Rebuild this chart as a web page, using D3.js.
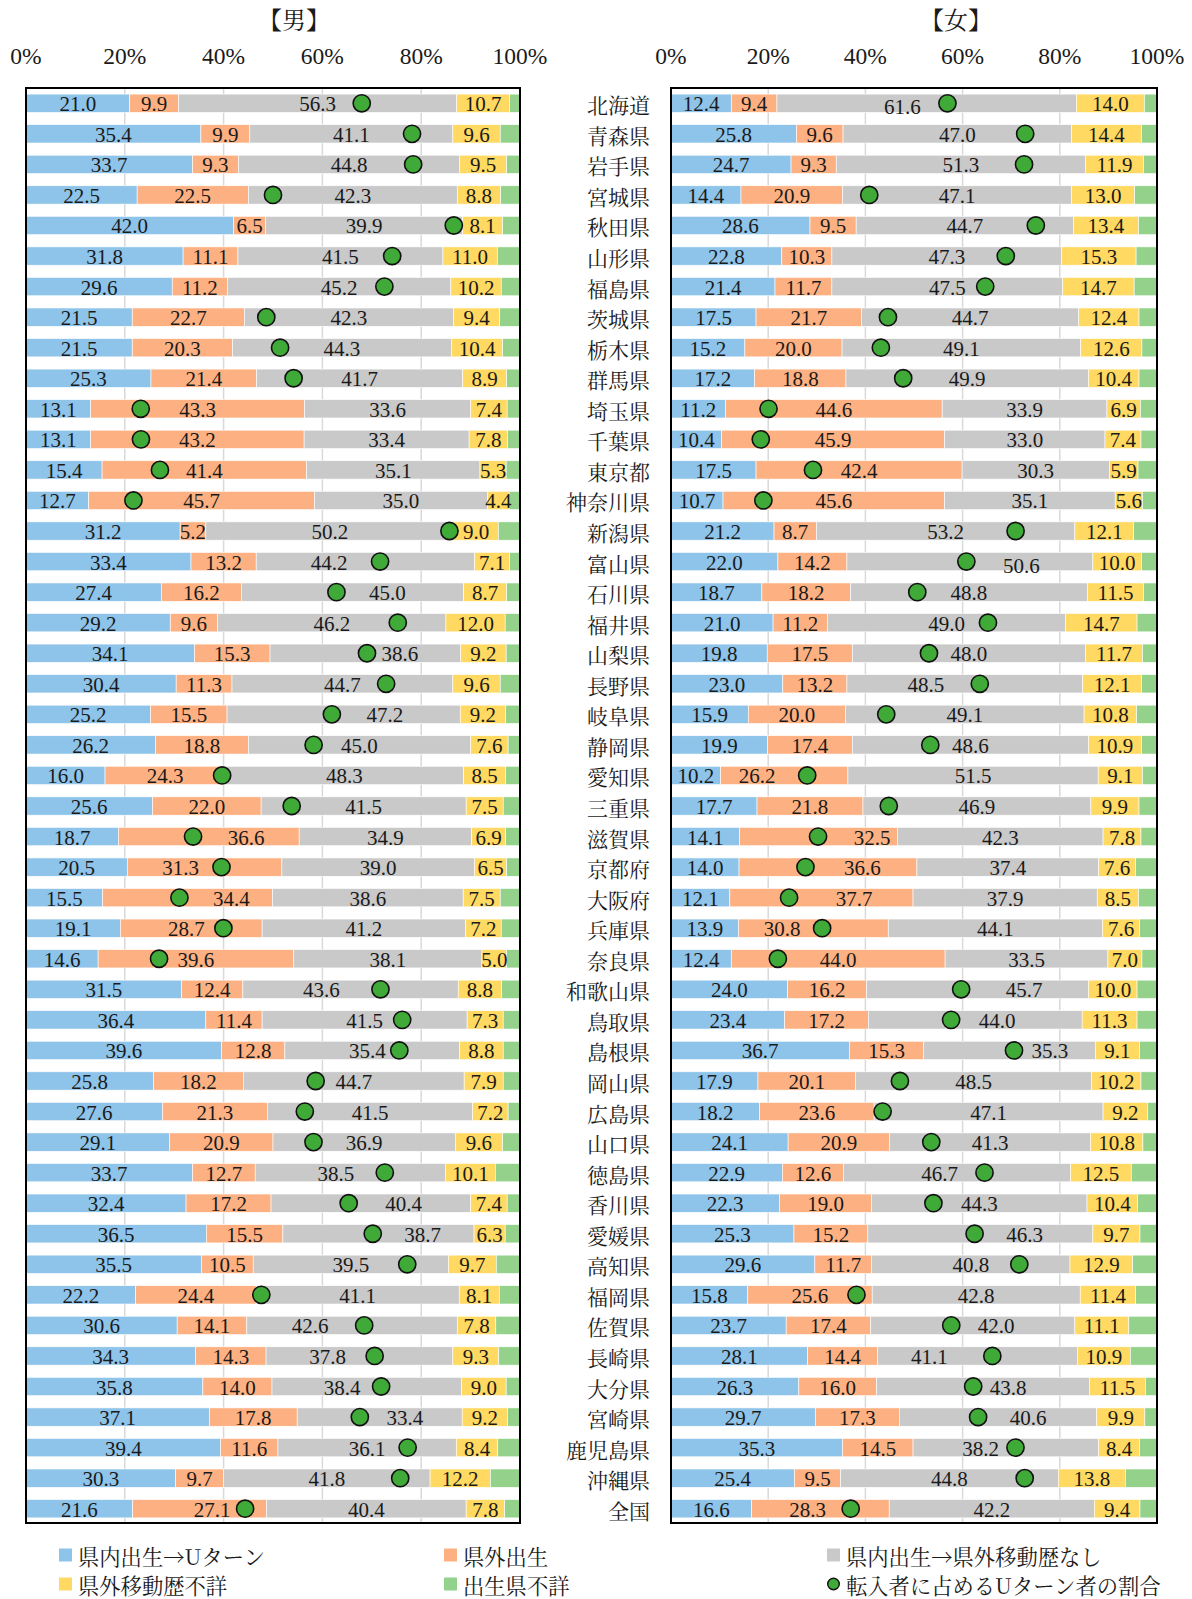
<!DOCTYPE html>
<html lang="ja">
<head>
<meta charset="utf-8">
<script src="https://cdn.jsdelivr.net/npm/d3@7"></script>
<style>
  html, body { margin: 0; padding: 0; background: #fff; }
  svg text { fill: #1a1a1a; }
  .num { font-family: "Liberation Serif", "Times New Roman", serif; }
  .jp { font-family: "Noto Serif CJK JP", "Liberation Serif", "Noto Sans CJK JP", serif; }
</style>
</head>
<body>
<svg id="chart" width="1192" height="1599"></svg>
<script>
// Prefectures (Kumamoto not surveyed) plus national total
const prefectures = ["北海道","青森県","岩手県","宮城県","秋田県","山形県","福島県","茨城県","栃木県","群馬県",
  "埼玉県","千葉県","東京都","神奈川県","新潟県","富山県","石川県","福井県","山梨県","長野県",
  "岐阜県","静岡県","愛知県","三重県","滋賀県","京都府","大阪府","兵庫県","奈良県","和歌山県",
  "鳥取県","島根県","岡山県","広島県","山口県","徳島県","香川県","愛媛県","高知県","福岡県",
  "佐賀県","長崎県","大分県","宮崎県","鹿児島県","沖縄県","全国"];

// Male shares (%)
const maleUturn = [21.0,35.4,33.7,22.5,42.0,31.8,29.6,21.5,21.5,25.3,13.1,13.1,15.4,12.7,31.2,33.4,27.4,29.2,34.1,30.4,
  25.2,26.2,16.0,25.6,18.7,20.5,15.5,19.1,14.6,31.5,36.4,39.6,25.8,27.6,29.1,33.7,32.4,36.5,35.5,22.2,
  30.6,34.3,35.8,37.1,39.4,30.3,21.6];
const maleOutside = [9.9,9.9,9.3,22.5,6.5,11.1,11.2,22.7,20.3,21.4,43.3,43.2,41.4,45.7,5.2,13.2,16.2,9.6,15.3,11.3,
  15.5,18.8,24.3,22.0,36.6,31.3,34.4,28.7,39.6,12.4,11.4,12.8,18.2,21.3,20.9,12.7,17.2,15.5,10.5,24.4,
  14.1,14.3,14.0,17.8,11.6,9.7,27.1];
const maleStayed = [56.3,41.1,44.8,42.3,39.9,41.5,45.2,42.3,44.3,41.7,33.6,33.4,35.1,35.0,50.2,44.2,45.0,46.2,38.6,44.7,
  47.2,45.0,48.3,41.5,34.9,39.0,38.6,41.2,38.1,43.6,41.5,35.4,44.7,41.5,36.9,38.5,40.4,38.7,39.5,41.1,
  42.6,37.8,38.4,33.4,36.1,41.8,40.4];
const maleMoveUnknown = [10.7,9.6,9.5,8.8,8.1,11.0,10.2,9.4,10.4,8.9,7.4,7.8,5.3,4.4,9.0,7.1,8.7,12.0,9.2,9.6,
  9.2,7.6,8.5,7.5,6.9,6.5,7.5,7.2,5.0,8.8,7.3,8.8,7.9,7.2,9.6,10.1,7.4,6.3,9.7,8.1,
  7.8,9.3,9.0,9.2,8.4,12.2,7.8];

// Female shares (%)
const femaleUturn = [12.4,25.8,24.7,14.4,28.6,22.8,21.4,17.5,15.2,17.2,11.2,10.4,17.5,10.7,21.2,22.0,18.7,21.0,19.8,23.0,
  15.9,19.9,10.2,17.7,14.1,14.0,12.1,13.9,12.4,24.0,23.4,36.7,17.9,18.2,24.1,22.9,22.3,25.3,29.6,15.8,
  23.7,28.1,26.3,29.7,35.3,25.4,16.6];
const femaleOutside = [9.4,9.6,9.3,20.9,9.5,10.3,11.7,21.7,20.0,18.8,44.6,45.9,42.4,45.6,8.7,14.2,18.2,11.2,17.5,13.2,
  20.0,17.4,26.2,21.8,32.5,36.6,37.7,30.8,44.0,16.2,17.2,15.3,20.1,23.6,20.9,12.6,19.0,15.2,11.7,25.6,
  17.4,14.4,16.0,17.3,14.5,9.5,28.3];
const femaleStayed = [61.6,47.0,51.3,47.1,44.7,47.3,47.5,44.7,49.1,49.9,33.9,33.0,30.3,35.1,53.2,50.6,48.8,49.0,48.0,48.5,
  49.1,48.6,51.5,46.9,42.3,37.4,37.9,44.1,33.5,45.7,44.0,35.3,48.5,47.1,41.3,46.7,44.3,46.3,40.8,42.8,
  42.0,41.1,43.8,40.6,38.2,44.8,42.2];
const femaleMoveUnknown = [14.0,14.4,11.9,13.0,13.4,15.3,14.7,12.4,12.6,10.4,6.9,7.4,5.9,5.6,12.1,10.0,11.5,14.7,11.7,12.1,
  10.8,10.9,9.1,9.9,7.8,7.6,8.5,7.6,7.0,10.0,11.3,9.1,10.2,9.2,10.8,12.5,10.4,9.7,12.9,11.4,
  11.1,10.9,11.5,9.9,8.4,13.8,9.4];

const seriesNames = ["県内出生→Uターン","県外出生","県内出生→県外移動歴なし","県外移動歴不詳","出生県不詳"];
const ratioName = "転入者に占めるUターン者の割合";
const tickValues = [0, 20, 40, 60, 80, 100];

const colors = ["#8EC4E9", "#FDB182", "#C9C9C9", "#FFD961", "#94D28C"];
const dotFill = "#3FAA38";
const dotR = 8.6;

const svg = d3.select("#chart");

// Build rows: four stated shares, remaining share is "birth prefecture unknown"
function buildRows(u, o, s, m) {
  return prefectures.map((name, i) => {
    const vals = [u[i], o[i], s[i], m[i]];
    const rest = Math.max(0, 100 - d3.sum(vals));
    return { name, vals: vals.concat([rest]), ratio: u[i] / (u[i] + o[i]) * 100 };
  });
}
const maleRows = buildRows(maleUturn, maleOutside, maleStayed, maleMoveUnknown);
const femaleRows = buildRows(femaleUturn, femaleOutside, femaleStayed, femaleMoveUnknown);

const y = d3.scaleBand().domain(prefectures).range([88, 1524]).paddingInner(0.4).paddingOuter(0.2);

// Labels that would sit under the marker are moved beside it:
// gap (px) between label and marker, optional forced side (+1 right / -1 left), optional dy.
const labelMove = {
  "male|富山県|2": { gap: 23 }, "male|石川県|2": { gap: 23 }, "male|山梨県|2": { gap: 5, side: 1 },
  "male|岐阜県|2": { gap: 25 }, "male|滋賀県|1": { gap: 25 }, "male|京都府|1": { gap: 13 },
  "male|大阪府|1": { gap: 24 }, "male|兵庫県|1": { gap: 9 }, "male|和歌山県|2": { gap: 31 },
  "male|島根県|2": { gap: 4 }, "male|徳島県|2": { gap: 21 }, "male|香川県|2": { gap: 27 },
  "male|愛媛県|2": { gap: 22 }, "male|佐賀県|2": { gap: 26 }, "male|長崎県|2": { gap: 19 },
  "male|大分県|2": { gap: 11 }, "male|宮崎県|2": { gap: 17 }, "male|全国|1": { gap: 5, side: -1 },
  "female|北海道|2": { gap: 17, side: -1, dy: 3 }, "female|富山県|2": { gap: 27, side: 1, dy: 3 },
  "female|長野県|2": { gap: 26 }, "female|愛知県|1": { gap: 22 }, "female|滋賀県|1": { gap: 26, side: 1 },
  "female|京都府|1": { gap: 29 }, "female|大阪府|1": { gap: 37 }, "female|兵庫県|1": { gap: 12 },
  "female|和歌山県|2": { gap: 35 }, "female|鳥取県|2": { gap: 18 }, "female|島根県|2": { gap: 8, side: 1 },
  "female|徳島県|2": { gap: 17 }, "female|愛媛県|2": { gap: 22 }, "female|佐賀県|2": { gap: 17 },
  "female|長崎県|2": { gap: 35 }, "female|大分県|2": { gap: 7 }, "female|宮崎県|2": { gap: 22 },
  "female|鹿児島県|2": { gap: 7 }, "female|全国|1": { gap: 15 }
};

function panel(rows, key, x0, x1, title, titleX) {
  const x = d3.scaleLinear().domain([0, 100]).range([x0, x1]);
  const g = svg.append("g");

  // gridlines
  g.selectAll("line.grid").data([20, 40, 60, 80]).join("line")
    .attr("x1", d => x(d)).attr("x2", d => x(d))
    .attr("y1", 88).attr("y2", 1523)
    .attr("stroke", "#D9D9D9").attr("stroke-width", 1.5);

  // stacked segments
  const rowG = g.selectAll("g.row").data(rows).join("g").attr("class", "row");
  rowG.each(function(r) {
    let acc = 0;
    r.segs = r.vals.map((v, k) => { const s = { k, v, a: acc, b: acc + v }; acc += v; return s; });
    d3.select(this).selectAll("rect").data(r.segs).join("rect")
      .attr("x", d => x(d.a)).attr("width", d => Math.max(0, x(d.b) - x(d.a)))
      .attr("y", y(r.name)).attr("height", y.bandwidth())
      .attr("fill", d => colors[d.k])
      .attr("stroke", "#fff").attr("stroke-width", 0.6);
  });

  // U-turn ratio markers
  g.selectAll("circle.dot").data(rows).join("circle")
    .attr("cx", d => x(d.ratio)).attr("cy", d => y(d.name) + y.bandwidth() / 2)
    .attr("r", dotR).attr("fill", dotFill).attr("stroke", "#111").attr("stroke-width", 1.6);

  // value labels
  rowG.each(function(r) {
    const cy = y(r.name) + y.bandwidth() / 2 + 1;
    const cx = x(r.ratio);
    d3.select(this).selectAll("text").data(r.segs.filter(s => s.k < 4)).join("text")
      .attr("class", "num")
      .attr("text-anchor", "middle").attr("dominant-baseline", "central")
      .attr("font-size", 21)
      .text(d => d.v.toFixed(1))
      .each(function(d) {
        const t = d3.select(this);
        let lx = x((d.a + d.b) / 2), ly = cy;
        const mv = labelMove[key + "|" + r.name + "|" + d.k];
        if (mv) {
          const hw = this.getComputedTextLength() / 2;
          const side = mv.side || (lx >= cx ? 1 : -1);
          lx = cx + side * (dotR + 1 + mv.gap + hw);
          ly += mv.dy || 0;
        }
        t.attr("x", lx).attr("y", ly);
      });
  });

  // frame
  g.append("rect").attr("x", x0).attr("y", 88).attr("width", x1 - x0).attr("height", 1523 - 88)
    .attr("fill", "none").attr("stroke", "#000").attr("stroke-width", 2);

  // top axis labels
  g.selectAll("text.tick").data(tickValues).join("text")
    .attr("class", "num tick")
    .attr("x", d => x(d)).attr("y", 55.5)
    .attr("text-anchor", "middle").attr("dominant-baseline", "central")
    .attr("font-size", 23.5)
    .text(d => d + "%");

  // panel title
  g.append("text").attr("class", "jp").attr("x", titleX).attr("y", 18.5)
    .attr("text-anchor", "middle").attr("dominant-baseline", "central")
    .attr("font-size", 24).text(title);
  return x;
}

panel(maleRows, "male", 26, 520, "【男】", 294);
panel(femaleRows, "female", 671, 1157, "【女】", 956);

// prefecture names
svg.append("g").selectAll("text").data(prefectures).join("text")
  .attr("class", "jp")
  .attr("x", 650).attr("y", d => y(d) + y.bandwidth() / 2 + 1)
  .attr("text-anchor", "end").attr("dominant-baseline", "central")
  .attr("font-size", 21)
  .text(d => d);

// legend
const legendItems = [
  { label: seriesNames[0], color: colors[0], x: 59, y: 1555 },
  { label: seriesNames[1], color: colors[1], x: 444, y: 1555 },
  { label: seriesNames[2], color: colors[2], x: 827, y: 1555 },
  { label: seriesNames[3], color: colors[3], x: 59, y: 1584 },
  { label: seriesNames[4], color: colors[4], x: 444, y: 1584 },
  { label: ratioName, color: dotFill, x: 827, y: 1584, dot: true }
];
const lg = svg.append("g").selectAll("g").data(legendItems).join("g");
lg.each(function(d) {
  const s = d3.select(this);
  if (d.dot) {
    s.append("circle").attr("cx", d.x + 6.5).attr("cy", d.y).attr("r", 5.8)
      .attr("fill", d.color).attr("stroke", "#111").attr("stroke-width", 1.4);
  } else {
    s.append("rect").attr("x", d.x).attr("y", d.y - 6.5).attr("width", 13).attr("height", 13).attr("fill", d.color);
  }
  s.append("text").attr("class", "jp").attr("x", d.x + 19).attr("y", d.y)
    .attr("dominant-baseline", "central").attr("font-size", 21.3).text(d.label);
});
</script>
</body>
</html>
